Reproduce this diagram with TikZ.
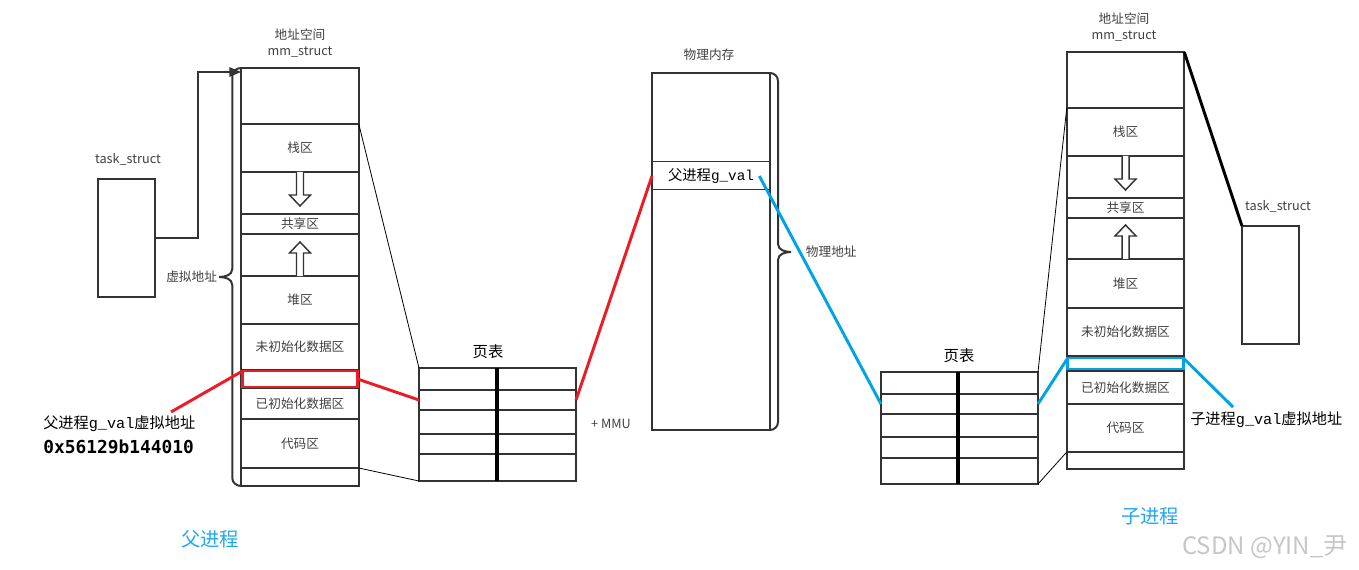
\documentclass[tikz,border=0pt]{standalone}
\usepackage{fontspec}
\setmainfont{Noto Sans CJK SC}
\newfontfamily\gvfont{Liberation Mono}
\newfontfamily\hexfont{DejaVu Sans Mono}
\usetikzlibrary{arrows.meta,positioning,calc}
\definecolor{boxcolor}{HTML}{333333}
\definecolor{labelcolor}{HTML}{404040}
\definecolor{parentcolor}{HTML}{ED1C24}
\definecolor{childcolor}{HTML}{00A2E8}
\definecolor{proccolor}{HTML}{22A6F2}
\newcommand\ptsize[1]{\fontsize{#1}{#1}\selectfont}
\tikzset{
  mm box/.style 2 args={draw=boxcolor,line width=1.5pt,outer sep=0pt,inner sep=0pt,
    minimum width=#1*0.75pt,minimum height=#2*0.75pt},
  mm seg/.style={mm box={117.5}{#1},text=labelcolor,font=\ptsize{9.5}},
  mm mark/.style={draw=#1,line width=2.2pt,outer sep=0pt,inner sep=0pt},
  mm title/.style={text=labelcolor,font=\fontsize{9.5}{12}\selectfont,align=center,inner sep=0pt},
  mm note/.style={text=labelcolor,font=\ptsize{9.5},inner sep=0pt},
  pt title/.style={font=\ptsize{11.5},inner sep=0pt},
  var label/.style={font=\ptsize{11.4},inner sep=0pt,anchor=west},
  proc label/.style={text=proccolor,font=\ptsize{14.5},inner sep=0pt},
  mm link/.style={black,line width=.6pt},
  mm pointer/.style={boxcolor,line width=1.5pt,-{Triangle[length=9pt,width=7pt]}},
  mm brace/.style={boxcolor,line width=1.5pt},
  mm divider/.style={black,line width=3pt},
  parent map/.style={parentcolor,line width=2.2pt},
  child map/.style={childcolor,line width=2.2pt},
  hollow arrow/.pic={
    \draw[boxcolor,line width=1.1pt,fill=white] (-3.5,0) -- (-3.5,23) -- (-10.5,23)
      -- (0,34) -- (10.5,23) -- (3.5,23) -- (3.5,0);
  }
}

\begin{document}
\begin{tikzpicture}[x=.75pt,y=-.75pt]
  \useasboundingbox (0,0) rectangle (1359,570);
  % parent process
  \node[mm box={57}{118}] (ltask) at (126.5,238) {};
  \node[mm note] at (128,159) {task\_struct};
  \node[mm title] at (300,43) {地址空间\\mm\_struct};
  \node[mm seg=56] (ltop) at (300,96) {};
  \node[mm seg=48,below=0pt of ltop] (lstack) {栈区};
  \node[mm seg=42,below=0pt of lstack] (lgapa) {};
  \node[mm seg=20,below=0pt of lgapa] (lshare) {共享区};
  \node[mm seg=42,below=0pt of lshare] (lgapb) {};
  \node[mm seg=48,below=0pt of lgapb] (lheap) {堆区};
  \node[mm seg=46,below=0pt of lheap] (lbss) {未初始化数据区};
  \node[mm seg=18,below=0pt of lbss] (lgv) {};
  \node[mm seg=31,below=0pt of lgv] (ldata) {已初始化数据区};
  \node[mm seg=49,below=0pt of ldata] (lcode) {代码区};
  \node[mm seg=18,below=0pt of lcode] (lbot) {};
  \node[mm mark=parentcolor,minimum width=115*.75pt,minimum height=16*.75pt] (lgvbox) at (lgv) {};
  \pic at (lgapa.north) {hollow arrow};
  \pic[yscale=-1] at (lgapb.south) {hollow arrow};
  \draw[mm pointer] (ltask.east) -| ($(ltask.east)!.5!(ltop.north west)$) |- ([yshift=-3pt]ltop.north west);
  \draw[mm brace] (ltop.north west) to[out=180,in=90] ++(-9,8) -- ++(0,193)
    to[out=-90,in=0] ++(-13,8) coordinate (lbrace) to[out=0,in=90] ++(13,8) -- ++(0,193)
    to[out=-90,in=180] (lbot.south west);
  \node[mm note,left=1.5pt of lbrace] {虚拟地址};
  \node[var label] (lvlab) at (43,424) {父进程{\gvfont g\_val}虚拟地址};
  \node[var label,font=\hexfont\bfseries\ptsize{13.4}] (lhex) at (43,447) {0x56129b144010};
  \coordinate (lvend) at (171,412);
  \node[proc label] at (210,539) {父进程};
  % parent page table
  \node[pt title] at (488,352) {页表};
  \foreach \t/\h [count=\i] in {368/22,390/20,410/24,434/20,454/27}{
    \node[mm box={78}{\h}] (ptl\i a) at (458,\t+\h/2) {};
    \node[mm box={79}{\h}] (ptl\i b) at (536.5,\t+\h/2) {};
  }
  \draw[mm divider] (ptl1a.north east) -- (ptl5a.south east);
  \node[mm note] at (611,424) {+ MMU};
  % physical memory
  \node[mm title] at (709,55) {物理内存};
  \node[mm box={118}{357}] (pmem) at (711,251.5) {};
  \node[mm box={118}{28},line width=.75pt,font=\ptsize{10.75}] (pgv) at (711,176) {父进程{\gvfont g\_val}};
  \coordinate (pgvend) at ([xshift=-8pt]pgv.east);
  \draw[mm brace] (pmem.north east) to[out=0,in=90] ++(8,8) -- ++(0,163)
    to[out=-90,in=180] ++(13,8) coordinate (pbrace) to[out=180,in=90] ++(-13,8) -- ++(0,162)
    to[out=-90,in=0] (pmem.south east);
  \node[mm note,right=11pt of pbrace] {物理地址};
  % child page table
  \node[pt title] at (959,356) {页表};
  \foreach \t/\h [count=\i] in {372/22,394/20,414/23,437/21,458/26}{
    \node[mm box={77}{\h}] (prt\i a) at (919.5,\t+\h/2) {};
    \node[mm box={80}{\h}] (prt\i b) at (998,\t+\h/2) {};
  }
  \draw[mm divider] (prt1a.north east) -- (prt5a.south east);
  % child process
  \node[mm title] at (1124,27) {地址空间\\mm\_struct};
  \node[mm seg=56] (rtop) at (1125.5,80) {};
  \node[mm seg=48,below=0pt of rtop] (rstack) {栈区};
  \node[mm seg=42,below=0pt of rstack] (rgapa) {};
  \node[mm seg=20,below=0pt of rgapa] (rshare) {共享区};
  \node[mm seg=41,below=0pt of rshare] (rgapb) {};
  \node[mm seg=49,below=0pt of rgapb] (rheap) {堆区};
  \node[mm seg=48,below=0pt of rheap] (rbss) {未初始化数据区};
  \node[mm seg=15,below=0pt of rbss] (rgv) {};
  \node[mm seg=33,below=0pt of rgv] (rdata) {已初始化数据区};
  \node[mm seg=48,below=0pt of rdata] (rcode) {代码区};
  \node[mm seg=17,below=0pt of rcode] (rbot) {};
  \node[mm mark=childcolor,minimum width=115.5*.75pt,minimum height=11*.75pt] (rgvbox) at (rgv) {};
  \pic at (rgapa.north) {hollow arrow};
  \pic[yscale=-1] at (rgapb.south) {hollow arrow};
  \node[mm box={57}{118}] (rtask) at (1270.5,285) {};
  \node[mm note] at (1278,206) {task\_struct};
  \node[var label] (rvlab) at (1190,420) {子进程{\gvfont g\_val}虚拟地址};
  \coordinate (rvend) at (1233,407);
  \node[proc label] at (1150,516) {子进程};
  % mappings
  \draw[mm link] (lstack.north east) -- (ptl1a.north west);
  \draw[mm link] (lcode.south east) -- (ptl5a.south west);
  \draw[mm link] (rstack.north west) -- (prt1b.north east);
  \draw[mm link] (rcode.south west) -- (prt5b.south east);
  \draw[black,line width=2.2pt] (rtop.north east) -- (rtask.north west);
  \draw[parent map] (lgvbox.north west) -- (lvend);
  \draw[parent map] (lgvbox.east) -- (ptl2a.west);
  \draw[parent map] (ptl2b.east) -- (pgv.west);
  \draw[child map] (pgvend) -- (prt2a.west);
  \draw[child map] (prt2b.east) -- (rgvbox.north west);
  \draw[child map] (rgvbox.north east) -- (rvend);
  \node[text=gray!45,font=\ptsize{18},inner sep=0pt] at (1265,547) {CSDN @YIN\_尹};
\end{tikzpicture}
\end{document}
